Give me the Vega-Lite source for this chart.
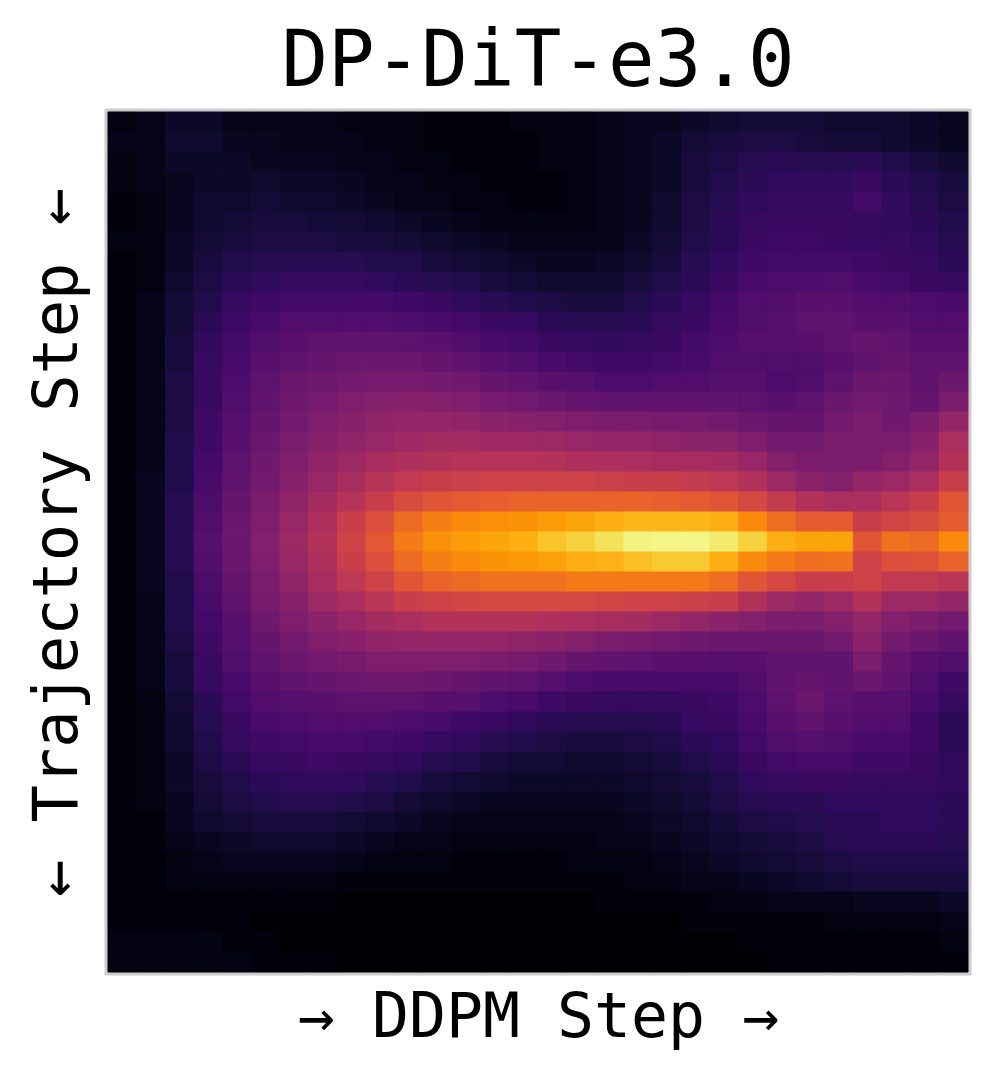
{"$schema":"https://vega.github.io/schema/vega-lite/v6.json","width":860,"height":860,"autosize":{"type":"none"},"padding":{"left":108,"top":112,"right":29,"bottom":108},"background":"white","config":{"view":{"stroke":"#cccccc","strokeWidth":7}},"title":{"text":"DP-DiT-e3.0","font":"DejaVu Sans Mono","fontSize":77.5,"fontWeight":"normal","color":"#000000","anchor":"middle","offset":9},"data":{"values":[
{"x":0,"y":0,"v":2},{"x":1,"y":0,"v":3},{"x":2,"y":0,"v":5},{"x":3,"y":0,"v":5},{"x":4,"y":0,"v":3},{"x":5,"y":0,"v":3},{"x":6,"y":0,"v":3},{"x":7,"y":0,"v":3},{"x":8,"y":0,"v":2},{"x":9,"y":0,"v":2},{"x":10,"y":0,"v":2},{"x":11,"y":0,"v":1},{"x":12,"y":0,"v":1},{"x":13,"y":0,"v":1},{"x":14,"y":0,"v":2},{"x":15,"y":0,"v":2},{"x":16,"y":0,"v":2},{"x":17,"y":0,"v":3},{"x":18,"y":0,"v":4},{"x":19,"y":0,"v":4},{"x":20,"y":0,"v":5},{"x":21,"y":0,"v":6},{"x":22,"y":0,"v":7},{"x":23,"y":0,"v":7},{"x":24,"y":0,"v":7},{"x":25,"y":0,"v":6},{"x":26,"y":0,"v":6},{"x":27,"y":0,"v":6},{"x":28,"y":0,"v":5},{"x":29,"y":0,"v":4},
{"x":0,"y":1,"v":3},{"x":1,"y":1,"v":3},{"x":2,"y":1,"v":6},{"x":3,"y":1,"v":6},{"x":4,"y":1,"v":4},{"x":5,"y":1,"v":4},{"x":6,"y":1,"v":3},{"x":7,"y":1,"v":3},{"x":8,"y":1,"v":3},{"x":9,"y":1,"v":2},{"x":10,"y":1,"v":2},{"x":11,"y":1,"v":1},{"x":12,"y":1,"v":1},{"x":13,"y":1,"v":1},{"x":14,"y":1,"v":1},{"x":15,"y":1,"v":2},{"x":16,"y":1,"v":2},{"x":17,"y":1,"v":3},{"x":18,"y":1,"v":4},{"x":19,"y":1,"v":5},{"x":20,"y":1,"v":7},{"x":21,"y":1,"v":8},{"x":22,"y":1,"v":9},{"x":23,"y":1,"v":9},{"x":24,"y":1,"v":8},{"x":25,"y":1,"v":7},{"x":26,"y":1,"v":7},{"x":27,"y":1,"v":6},{"x":28,"y":1,"v":5},{"x":29,"y":1,"v":4},
{"x":0,"y":2,"v":2},{"x":1,"y":2,"v":3},{"x":2,"y":2,"v":5},{"x":3,"y":2,"v":5},{"x":4,"y":2,"v":5},{"x":5,"y":2,"v":4},{"x":6,"y":2,"v":4},{"x":7,"y":2,"v":4},{"x":8,"y":2,"v":3},{"x":9,"y":2,"v":3},{"x":10,"y":2,"v":2},{"x":11,"y":2,"v":2},{"x":12,"y":2,"v":1},{"x":13,"y":2,"v":1},{"x":14,"y":2,"v":1},{"x":15,"y":2,"v":2},{"x":16,"y":2,"v":2},{"x":17,"y":2,"v":3},{"x":18,"y":2,"v":4},{"x":19,"y":2,"v":5},{"x":20,"y":2,"v":8},{"x":21,"y":2,"v":9},{"x":22,"y":2,"v":11},{"x":23,"y":2,"v":12},{"x":24,"y":2,"v":11},{"x":25,"y":2,"v":11},{"x":26,"y":2,"v":12},{"x":27,"y":2,"v":10},{"x":28,"y":2,"v":8},{"x":29,"y":2,"v":6},
{"x":0,"y":3,"v":2},{"x":1,"y":3,"v":3},{"x":2,"y":3,"v":4},{"x":3,"y":3,"v":5},{"x":4,"y":3,"v":5},{"x":5,"y":3,"v":6},{"x":6,"y":3,"v":5},{"x":7,"y":3,"v":5},{"x":8,"y":3,"v":4},{"x":9,"y":3,"v":3},{"x":10,"y":3,"v":3},{"x":11,"y":3,"v":2},{"x":12,"y":3,"v":2},{"x":13,"y":3,"v":1},{"x":14,"y":3,"v":1},{"x":15,"y":3,"v":1},{"x":16,"y":3,"v":2},{"x":17,"y":3,"v":3},{"x":18,"y":3,"v":4},{"x":19,"y":3,"v":5},{"x":20,"y":3,"v":8},{"x":21,"y":3,"v":10},{"x":22,"y":3,"v":12},{"x":23,"y":3,"v":13},{"x":24,"y":3,"v":13},{"x":25,"y":3,"v":13},{"x":26,"y":3,"v":15},{"x":27,"y":3,"v":12},{"x":28,"y":3,"v":10},{"x":29,"y":3,"v":8},
{"x":0,"y":4,"v":1},{"x":1,"y":4,"v":2},{"x":2,"y":4,"v":4},{"x":3,"y":4,"v":6},{"x":4,"y":4,"v":6},{"x":5,"y":4,"v":7},{"x":6,"y":4,"v":6},{"x":7,"y":4,"v":6},{"x":8,"y":4,"v":5},{"x":9,"y":4,"v":4},{"x":10,"y":4,"v":3},{"x":11,"y":4,"v":3},{"x":12,"y":4,"v":2},{"x":13,"y":4,"v":2},{"x":14,"y":4,"v":1},{"x":15,"y":4,"v":1},{"x":16,"y":4,"v":2},{"x":17,"y":4,"v":3},{"x":18,"y":4,"v":4},{"x":19,"y":4,"v":6},{"x":20,"y":4,"v":9},{"x":21,"y":4,"v":11},{"x":22,"y":4,"v":13},{"x":23,"y":4,"v":14},{"x":24,"y":4,"v":14},{"x":25,"y":4,"v":14},{"x":26,"y":4,"v":17},{"x":27,"y":4,"v":13},{"x":28,"y":4,"v":11},{"x":29,"y":4,"v":9},
{"x":0,"y":5,"v":1},{"x":1,"y":5,"v":2},{"x":2,"y":5,"v":4},{"x":3,"y":5,"v":6},{"x":4,"y":5,"v":7},{"x":5,"y":5,"v":8},{"x":6,"y":5,"v":8},{"x":7,"y":5,"v":7},{"x":8,"y":5,"v":7},{"x":9,"y":5,"v":6},{"x":10,"y":5,"v":5},{"x":11,"y":5,"v":4},{"x":12,"y":5,"v":3},{"x":13,"y":5,"v":2},{"x":14,"y":5,"v":2},{"x":15,"y":5,"v":2},{"x":16,"y":5,"v":2},{"x":17,"y":5,"v":3},{"x":18,"y":5,"v":4},{"x":19,"y":5,"v":6},{"x":20,"y":5,"v":9},{"x":21,"y":5,"v":12},{"x":22,"y":5,"v":14},{"x":23,"y":5,"v":15},{"x":24,"y":5,"v":15},{"x":25,"y":5,"v":15},{"x":26,"y":5,"v":14},{"x":27,"y":5,"v":13},{"x":28,"y":5,"v":12},{"x":29,"y":5,"v":10},
{"x":0,"y":6,"v":2},{"x":1,"y":6,"v":2},{"x":2,"y":6,"v":5},{"x":3,"y":6,"v":7},{"x":4,"y":6,"v":8},{"x":5,"y":6,"v":9},{"x":6,"y":6,"v":9},{"x":7,"y":6,"v":9},{"x":8,"y":6,"v":8},{"x":9,"y":6,"v":8},{"x":10,"y":6,"v":7},{"x":11,"y":6,"v":6},{"x":12,"y":6,"v":5},{"x":13,"y":6,"v":4},{"x":14,"y":6,"v":3},{"x":15,"y":6,"v":3},{"x":16,"y":6,"v":3},{"x":17,"y":6,"v":3},{"x":18,"y":6,"v":5},{"x":19,"y":6,"v":7},{"x":20,"y":6,"v":10},{"x":21,"y":6,"v":12},{"x":22,"y":6,"v":15},{"x":23,"y":6,"v":16},{"x":24,"y":6,"v":16},{"x":25,"y":6,"v":15},{"x":26,"y":6,"v":14},{"x":27,"y":6,"v":14},{"x":28,"y":6,"v":13},{"x":29,"y":6,"v":11},
{"x":0,"y":7,"v":1},{"x":1,"y":7,"v":2},{"x":2,"y":7,"v":5},{"x":3,"y":7,"v":8},{"x":4,"y":7,"v":10},{"x":5,"y":7,"v":11},{"x":6,"y":7,"v":11},{"x":7,"y":7,"v":11},{"x":8,"y":7,"v":11},{"x":9,"y":7,"v":10},{"x":10,"y":7,"v":10},{"x":11,"y":7,"v":8},{"x":12,"y":7,"v":7},{"x":13,"y":7,"v":6},{"x":14,"y":7,"v":5},{"x":15,"y":7,"v":4},{"x":16,"y":7,"v":4},{"x":17,"y":7,"v":5},{"x":18,"y":7,"v":6},{"x":19,"y":7,"v":8},{"x":20,"y":7,"v":11},{"x":21,"y":7,"v":13},{"x":22,"y":7,"v":16},{"x":23,"y":7,"v":17},{"x":24,"y":7,"v":17},{"x":25,"y":7,"v":17},{"x":26,"y":7,"v":16},{"x":27,"y":7,"v":15},{"x":28,"y":7,"v":14},{"x":29,"y":7,"v":12},
{"x":0,"y":8,"v":1},{"x":1,"y":8,"v":2},{"x":2,"y":8,"v":6},{"x":3,"y":8,"v":9},{"x":4,"y":8,"v":12},{"x":5,"y":8,"v":13},{"x":6,"y":8,"v":14},{"x":7,"y":8,"v":14},{"x":8,"y":8,"v":14},{"x":9,"y":8,"v":13},{"x":10,"y":8,"v":12},{"x":11,"y":8,"v":11},{"x":12,"y":8,"v":10},{"x":13,"y":8,"v":8},{"x":14,"y":8,"v":7},{"x":15,"y":8,"v":6},{"x":16,"y":8,"v":6},{"x":17,"y":8,"v":6},{"x":18,"y":8,"v":8},{"x":19,"y":8,"v":10},{"x":20,"y":8,"v":12},{"x":21,"y":8,"v":15},{"x":22,"y":8,"v":18},{"x":23,"y":8,"v":19},{"x":24,"y":8,"v":19},{"x":25,"y":8,"v":20},{"x":26,"y":8,"v":18},{"x":27,"y":8,"v":17},{"x":28,"y":8,"v":15},{"x":29,"y":8,"v":14},
{"x":0,"y":9,"v":1},{"x":1,"y":9,"v":3},{"x":2,"y":9,"v":7},{"x":3,"y":9,"v":10},{"x":4,"y":9,"v":14},{"x":5,"y":9,"v":16},{"x":6,"y":9,"v":17},{"x":7,"y":9,"v":17},{"x":8,"y":9,"v":17},{"x":9,"y":9,"v":17},{"x":10,"y":9,"v":16},{"x":11,"y":9,"v":15},{"x":12,"y":9,"v":13},{"x":13,"y":9,"v":11},{"x":14,"y":9,"v":10},{"x":15,"y":9,"v":9},{"x":16,"y":9,"v":8},{"x":17,"y":9,"v":8},{"x":18,"y":9,"v":10},{"x":19,"y":9,"v":12},{"x":20,"y":9,"v":14},{"x":21,"y":9,"v":17},{"x":22,"y":9,"v":20},{"x":23,"y":9,"v":20},{"x":24,"y":9,"v":22},{"x":25,"y":9,"v":22},{"x":26,"y":9,"v":20},{"x":27,"y":9,"v":20},{"x":28,"y":9,"v":19},{"x":29,"y":9,"v":18},
{"x":0,"y":10,"v":1},{"x":1,"y":10,"v":3},{"x":2,"y":10,"v":7},{"x":3,"y":10,"v":12},{"x":4,"y":10,"v":16},{"x":5,"y":10,"v":18},{"x":6,"y":10,"v":20},{"x":7,"y":10,"v":20},{"x":8,"y":10,"v":20},{"x":9,"y":10,"v":20},{"x":10,"y":10,"v":19},{"x":11,"y":10,"v":18},{"x":12,"y":10,"v":17},{"x":13,"y":10,"v":15},{"x":14,"y":10,"v":14},{"x":15,"y":10,"v":12},{"x":16,"y":10,"v":11},{"x":17,"y":10,"v":11},{"x":18,"y":10,"v":12},{"x":19,"y":10,"v":14},{"x":20,"y":10,"v":15},{"x":21,"y":10,"v":18},{"x":22,"y":10,"v":20},{"x":23,"y":10,"v":21},{"x":24,"y":10,"v":23},{"x":25,"y":10,"v":24},{"x":26,"y":10,"v":22},{"x":27,"y":10,"v":22},{"x":28,"y":10,"v":20},{"x":29,"y":10,"v":20},
{"x":0,"y":11,"v":1},{"x":1,"y":11,"v":3},{"x":2,"y":11,"v":8},{"x":3,"y":11,"v":13},{"x":4,"y":11,"v":17},{"x":5,"y":11,"v":20},{"x":6,"y":11,"v":22},{"x":7,"y":11,"v":23},{"x":8,"y":11,"v":24},{"x":9,"y":11,"v":24},{"x":10,"y":11,"v":23},{"x":11,"y":11,"v":22},{"x":12,"y":11,"v":20},{"x":13,"y":11,"v":18},{"x":14,"y":11,"v":17},{"x":15,"y":11,"v":15},{"x":16,"y":11,"v":14},{"x":17,"y":11,"v":13},{"x":18,"y":11,"v":14},{"x":19,"y":11,"v":15},{"x":20,"y":11,"v":17},{"x":21,"y":11,"v":19},{"x":22,"y":11,"v":21},{"x":23,"y":11,"v":21},{"x":24,"y":11,"v":22},{"x":25,"y":11,"v":24},{"x":26,"y":11,"v":25},{"x":27,"y":11,"v":24},{"x":28,"y":11,"v":22},{"x":29,"y":11,"v":22},
{"x":0,"y":12,"v":1},{"x":1,"y":12,"v":3},{"x":2,"y":12,"v":8},{"x":3,"y":12,"v":14},{"x":4,"y":12,"v":18},{"x":5,"y":12,"v":22},{"x":6,"y":12,"v":24},{"x":7,"y":12,"v":25},{"x":8,"y":12,"v":26},{"x":9,"y":12,"v":26},{"x":10,"y":12,"v":26},{"x":11,"y":12,"v":25},{"x":12,"y":12,"v":24},{"x":13,"y":12,"v":22},{"x":14,"y":12,"v":20},{"x":15,"y":12,"v":18},{"x":16,"y":12,"v":17},{"x":17,"y":12,"v":16},{"x":18,"y":12,"v":16},{"x":19,"y":12,"v":17},{"x":20,"y":12,"v":18},{"x":21,"y":12,"v":20},{"x":22,"y":12,"v":20},{"x":23,"y":12,"v":20},{"x":24,"y":12,"v":20},{"x":25,"y":12,"v":22},{"x":26,"y":12,"v":24},{"x":27,"y":12,"v":25},{"x":28,"y":12,"v":24},{"x":29,"y":12,"v":24},
{"x":0,"y":13,"v":1},{"x":1,"y":13,"v":3},{"x":2,"y":13,"v":9},{"x":3,"y":13,"v":15},{"x":4,"y":13,"v":19},{"x":5,"y":13,"v":23},{"x":6,"y":13,"v":26},{"x":7,"y":13,"v":27},{"x":8,"y":13,"v":28},{"x":9,"y":13,"v":29},{"x":10,"y":13,"v":29},{"x":11,"y":13,"v":28},{"x":12,"y":13,"v":27},{"x":13,"y":13,"v":25},{"x":14,"y":13,"v":24},{"x":15,"y":13,"v":22},{"x":16,"y":13,"v":21},{"x":17,"y":13,"v":19},{"x":18,"y":13,"v":19},{"x":19,"y":13,"v":20},{"x":20,"y":13,"v":20},{"x":21,"y":13,"v":21},{"x":22,"y":13,"v":21},{"x":23,"y":13,"v":19},{"x":24,"y":13,"v":20},{"x":25,"y":13,"v":23},{"x":26,"y":13,"v":26},{"x":27,"y":13,"v":26},{"x":28,"y":13,"v":24},{"x":29,"y":13,"v":26},
{"x":0,"y":14,"v":1},{"x":1,"y":14,"v":3},{"x":2,"y":14,"v":9},{"x":3,"y":14,"v":15},{"x":4,"y":14,"v":20},{"x":5,"y":14,"v":24},{"x":6,"y":14,"v":27},{"x":7,"y":14,"v":29},{"x":8,"y":14,"v":31},{"x":9,"y":14,"v":32},{"x":10,"y":14,"v":33},{"x":11,"y":14,"v":32},{"x":12,"y":14,"v":31},{"x":13,"y":14,"v":29},{"x":14,"y":14,"v":28},{"x":15,"y":14,"v":26},{"x":16,"y":14,"v":25},{"x":17,"y":14,"v":24},{"x":18,"y":14,"v":24},{"x":19,"y":14,"v":24},{"x":20,"y":14,"v":24},{"x":21,"y":14,"v":24},{"x":22,"y":14,"v":23},{"x":23,"y":14,"v":22},{"x":24,"y":14,"v":23},{"x":25,"y":14,"v":26},{"x":26,"y":14,"v":28},{"x":27,"y":14,"v":27},{"x":28,"y":14,"v":25},{"x":29,"y":14,"v":30},
{"x":0,"y":15,"v":1},{"x":1,"y":15,"v":3},{"x":2,"y":15,"v":9},{"x":3,"y":15,"v":16},{"x":4,"y":15,"v":21},{"x":5,"y":15,"v":25},{"x":6,"y":15,"v":28},{"x":7,"y":15,"v":31},{"x":8,"y":15,"v":33},{"x":9,"y":15,"v":35},{"x":10,"y":15,"v":36},{"x":11,"y":15,"v":36},{"x":12,"y":15,"v":35},{"x":13,"y":15,"v":34},{"x":14,"y":15,"v":33},{"x":15,"y":15,"v":32},{"x":16,"y":15,"v":31},{"x":17,"y":15,"v":30},{"x":18,"y":15,"v":30},{"x":19,"y":15,"v":29},{"x":20,"y":15,"v":29},{"x":21,"y":15,"v":28},{"x":22,"y":15,"v":26},{"x":23,"y":15,"v":25},{"x":24,"y":15,"v":25},{"x":25,"y":15,"v":28},{"x":26,"y":15,"v":30},{"x":27,"y":15,"v":27},{"x":28,"y":15,"v":30},{"x":29,"y":15,"v":36},
{"x":0,"y":16,"v":1},{"x":1,"y":16,"v":3},{"x":2,"y":16,"v":10},{"x":3,"y":16,"v":16},{"x":4,"y":16,"v":22},{"x":5,"y":16,"v":26},{"x":6,"y":16,"v":30},{"x":7,"y":16,"v":33},{"x":8,"y":16,"v":35},{"x":9,"y":16,"v":37},{"x":10,"y":16,"v":39},{"x":11,"y":16,"v":40},{"x":12,"y":16,"v":40},{"x":13,"y":16,"v":39},{"x":14,"y":16,"v":39},{"x":15,"y":16,"v":38},{"x":16,"y":16,"v":37},{"x":17,"y":16,"v":36},{"x":18,"y":16,"v":36},{"x":19,"y":16,"v":35},{"x":20,"y":16,"v":34},{"x":21,"y":16,"v":34},{"x":22,"y":16,"v":31},{"x":23,"y":16,"v":28},{"x":24,"y":16,"v":28},{"x":25,"y":16,"v":30},{"x":26,"y":16,"v":30},{"x":27,"y":16,"v":30},{"x":28,"y":16,"v":33},{"x":29,"y":16,"v":42},
{"x":0,"y":17,"v":1},{"x":1,"y":17,"v":3},{"x":2,"y":17,"v":10},{"x":3,"y":17,"v":17},{"x":4,"y":17,"v":23},{"x":5,"y":17,"v":27},{"x":6,"y":17,"v":31},{"x":7,"y":17,"v":35},{"x":8,"y":17,"v":38},{"x":9,"y":17,"v":41},{"x":10,"y":17,"v":43},{"x":11,"y":17,"v":44},{"x":12,"y":17,"v":45},{"x":13,"y":17,"v":45},{"x":14,"y":17,"v":45},{"x":15,"y":17,"v":44},{"x":16,"y":17,"v":43},{"x":17,"y":17,"v":43},{"x":18,"y":17,"v":42},{"x":19,"y":17,"v":41},{"x":20,"y":17,"v":41},{"x":21,"y":17,"v":40},{"x":22,"y":17,"v":37},{"x":23,"y":17,"v":32},{"x":24,"y":17,"v":30},{"x":25,"y":17,"v":30},{"x":26,"y":17,"v":30},{"x":27,"y":17,"v":32},{"x":28,"y":17,"v":36},{"x":29,"y":17,"v":44},
{"x":0,"y":18,"v":1},{"x":1,"y":18,"v":4},{"x":2,"y":18,"v":10},{"x":3,"y":18,"v":18},{"x":4,"y":18,"v":24},{"x":5,"y":18,"v":28},{"x":6,"y":18,"v":33},{"x":7,"y":18,"v":37},{"x":8,"y":18,"v":41},{"x":9,"y":18,"v":45},{"x":10,"y":18,"v":48},{"x":11,"y":18,"v":50},{"x":12,"y":18,"v":51},{"x":13,"y":18,"v":52},{"x":14,"y":18,"v":52},{"x":15,"y":18,"v":52},{"x":16,"y":18,"v":52},{"x":17,"y":18,"v":51},{"x":18,"y":18,"v":50},{"x":19,"y":18,"v":50},{"x":20,"y":18,"v":49},{"x":21,"y":18,"v":47},{"x":22,"y":18,"v":44},{"x":23,"y":18,"v":38},{"x":24,"y":18,"v":34},{"x":25,"y":18,"v":32},{"x":26,"y":18,"v":36},{"x":27,"y":18,"v":38},{"x":28,"y":18,"v":42},{"x":29,"y":18,"v":50},
{"x":0,"y":19,"v":1},{"x":1,"y":19,"v":4},{"x":2,"y":19,"v":11},{"x":3,"y":19,"v":19},{"x":4,"y":19,"v":25},{"x":5,"y":19,"v":30},{"x":6,"y":19,"v":35},{"x":7,"y":19,"v":40},{"x":8,"y":19,"v":45},{"x":9,"y":19,"v":50},{"x":10,"y":19,"v":55},{"x":11,"y":19,"v":58},{"x":12,"y":19,"v":60},{"x":13,"y":19,"v":61},{"x":14,"y":19,"v":62},{"x":15,"y":19,"v":62},{"x":16,"y":19,"v":62},{"x":17,"y":19,"v":62},{"x":18,"y":19,"v":62},{"x":19,"y":19,"v":61},{"x":20,"y":19,"v":60},{"x":21,"y":19,"v":58},{"x":22,"y":19,"v":54},{"x":23,"y":19,"v":49},{"x":24,"y":19,"v":44},{"x":25,"y":19,"v":42},{"x":26,"y":19,"v":42},{"x":27,"y":19,"v":46},{"x":28,"y":19,"v":50},{"x":29,"y":19,"v":58},
{"x":0,"y":20,"v":1},{"x":1,"y":20,"v":4},{"x":2,"y":20,"v":11},{"x":3,"y":20,"v":20},{"x":4,"y":20,"v":26},{"x":5,"y":20,"v":31},{"x":6,"y":20,"v":37},{"x":7,"y":20,"v":43},{"x":8,"y":20,"v":50},{"x":9,"y":20,"v":56},{"x":10,"y":20,"v":64},{"x":11,"y":20,"v":69},{"x":12,"y":20,"v":72},{"x":13,"y":20,"v":73},{"x":14,"y":20,"v":74},{"x":15,"y":20,"v":76},{"x":16,"y":20,"v":78},{"x":17,"y":20,"v":80},{"x":18,"y":20,"v":82},{"x":19,"y":20,"v":82},{"x":20,"y":20,"v":82},{"x":21,"y":20,"v":80},{"x":22,"y":20,"v":72},{"x":23,"y":20,"v":65},{"x":24,"y":20,"v":60},{"x":25,"y":20,"v":60},{"x":26,"y":20,"v":50},{"x":27,"y":20,"v":53},{"x":28,"y":20,"v":55},{"x":29,"y":20,"v":60},
{"x":0,"y":21,"v":1},{"x":1,"y":21,"v":4},{"x":2,"y":21,"v":11},{"x":3,"y":21,"v":21},{"x":4,"y":21,"v":26},{"x":5,"y":21,"v":32},{"x":6,"y":21,"v":38},{"x":7,"y":21,"v":44},{"x":8,"y":21,"v":52},{"x":9,"y":21,"v":59},{"x":10,"y":21,"v":68},{"x":11,"y":21,"v":73},{"x":12,"y":21,"v":76},{"x":13,"y":21,"v":78},{"x":14,"y":21,"v":80},{"x":15,"y":21,"v":85},{"x":16,"y":21,"v":88},{"x":17,"y":21,"v":92},{"x":18,"y":21,"v":96},{"x":19,"y":21,"v":97},{"x":20,"y":21,"v":97},{"x":21,"y":21,"v":94},{"x":22,"y":21,"v":88},{"x":23,"y":21,"v":80},{"x":24,"y":21,"v":78},{"x":25,"y":21,"v":78},{"x":26,"y":21,"v":58},{"x":27,"y":21,"v":66},{"x":28,"y":21,"v":64},{"x":29,"y":21,"v":72},
{"x":0,"y":22,"v":1},{"x":1,"y":22,"v":4},{"x":2,"y":22,"v":11},{"x":3,"y":22,"v":20},{"x":4,"y":22,"v":26},{"x":5,"y":22,"v":31},{"x":6,"y":22,"v":37},{"x":7,"y":22,"v":43},{"x":8,"y":22,"v":50},{"x":9,"y":22,"v":56},{"x":10,"y":22,"v":64},{"x":11,"y":22,"v":69},{"x":12,"y":22,"v":72},{"x":13,"y":22,"v":74},{"x":14,"y":22,"v":75},{"x":15,"y":22,"v":77},{"x":16,"y":22,"v":80},{"x":17,"y":22,"v":81},{"x":18,"y":22,"v":84},{"x":19,"y":22,"v":86},{"x":20,"y":22,"v":86},{"x":21,"y":22,"v":80},{"x":22,"y":22,"v":72},{"x":23,"y":22,"v":68},{"x":24,"y":22,"v":65},{"x":25,"y":22,"v":66},{"x":26,"y":22,"v":52},{"x":27,"y":22,"v":56},{"x":28,"y":22,"v":57},{"x":29,"y":22,"v":62},
{"x":0,"y":23,"v":1},{"x":1,"y":23,"v":4},{"x":2,"y":23,"v":10},{"x":3,"y":23,"v":19},{"x":4,"y":23,"v":25},{"x":5,"y":23,"v":30},{"x":6,"y":23,"v":35},{"x":7,"y":23,"v":41},{"x":8,"y":23,"v":47},{"x":9,"y":23,"v":52},{"x":10,"y":23,"v":58},{"x":11,"y":23,"v":62},{"x":12,"y":23,"v":64},{"x":13,"y":23,"v":66},{"x":14,"y":23,"v":66},{"x":15,"y":23,"v":66},{"x":16,"y":23,"v":68},{"x":17,"y":23,"v":68},{"x":18,"y":23,"v":68},{"x":19,"y":23,"v":68},{"x":20,"y":23,"v":68},{"x":21,"y":23,"v":65},{"x":22,"y":23,"v":58},{"x":23,"y":23,"v":54},{"x":24,"y":23,"v":50},{"x":25,"y":23,"v":50},{"x":26,"y":23,"v":52},{"x":27,"y":23,"v":48},{"x":28,"y":23,"v":48},{"x":29,"y":23,"v":46},
{"x":0,"y":24,"v":1},{"x":1,"y":24,"v":3},{"x":2,"y":24,"v":10},{"x":3,"y":24,"v":18},{"x":4,"y":24,"v":24},{"x":5,"y":24,"v":29},{"x":6,"y":24,"v":33},{"x":7,"y":24,"v":38},{"x":8,"y":24,"v":42},{"x":9,"y":24,"v":46},{"x":10,"y":24,"v":50},{"x":11,"y":24,"v":52},{"x":12,"y":24,"v":53},{"x":13,"y":24,"v":54},{"x":14,"y":24,"v":54},{"x":15,"y":24,"v":54},{"x":16,"y":24,"v":54},{"x":17,"y":24,"v":53},{"x":18,"y":24,"v":52},{"x":19,"y":24,"v":52},{"x":20,"y":24,"v":51},{"x":21,"y":24,"v":50},{"x":22,"y":24,"v":44},{"x":23,"y":24,"v":38},{"x":24,"y":24,"v":36},{"x":25,"y":24,"v":38},{"x":26,"y":24,"v":44},{"x":27,"y":24,"v":38},{"x":28,"y":24,"v":38},{"x":29,"y":24,"v":36},
{"x":0,"y":25,"v":1},{"x":1,"y":25,"v":3},{"x":2,"y":25,"v":10},{"x":3,"y":25,"v":17},{"x":4,"y":25,"v":22},{"x":5,"y":25,"v":27},{"x":6,"y":25,"v":31},{"x":7,"y":25,"v":34},{"x":8,"y":25,"v":37},{"x":9,"y":25,"v":40},{"x":10,"y":25,"v":42},{"x":11,"y":25,"v":44},{"x":12,"y":25,"v":44},{"x":13,"y":25,"v":44},{"x":14,"y":25,"v":44},{"x":15,"y":25,"v":43},{"x":16,"y":25,"v":42},{"x":17,"y":25,"v":41},{"x":18,"y":25,"v":40},{"x":19,"y":25,"v":38},{"x":20,"y":25,"v":36},{"x":21,"y":25,"v":34},{"x":22,"y":25,"v":32},{"x":23,"y":25,"v":30},{"x":24,"y":25,"v":30},{"x":25,"y":25,"v":32},{"x":26,"y":25,"v":36},{"x":27,"y":25,"v":32},{"x":28,"y":25,"v":30},{"x":29,"y":25,"v":28},
{"x":0,"y":26,"v":1},{"x":1,"y":26,"v":3},{"x":2,"y":26,"v":9},{"x":3,"y":26,"v":16},{"x":4,"y":26,"v":21},{"x":5,"y":26,"v":25},{"x":6,"y":26,"v":28},{"x":7,"y":26,"v":31},{"x":8,"y":26,"v":33},{"x":9,"y":26,"v":35},{"x":10,"y":26,"v":36},{"x":11,"y":26,"v":36},{"x":12,"y":26,"v":36},{"x":13,"y":26,"v":36},{"x":14,"y":26,"v":35},{"x":15,"y":26,"v":34},{"x":16,"y":26,"v":32},{"x":17,"y":26,"v":30},{"x":18,"y":26,"v":29},{"x":19,"y":26,"v":28},{"x":20,"y":26,"v":27},{"x":21,"y":26,"v":26},{"x":22,"y":26,"v":26},{"x":23,"y":26,"v":26},{"x":24,"y":26,"v":26},{"x":25,"y":26,"v":28},{"x":26,"y":26,"v":34},{"x":27,"y":26,"v":28},{"x":28,"y":26,"v":26},{"x":29,"y":26,"v":24},
{"x":0,"y":27,"v":1},{"x":1,"y":27,"v":3},{"x":2,"y":27,"v":8},{"x":3,"y":27,"v":15},{"x":4,"y":27,"v":20},{"x":5,"y":27,"v":24},{"x":6,"y":27,"v":26},{"x":7,"y":27,"v":28},{"x":8,"y":27,"v":29},{"x":9,"y":27,"v":31},{"x":10,"y":27,"v":31},{"x":11,"y":27,"v":31},{"x":12,"y":27,"v":31},{"x":13,"y":27,"v":30},{"x":14,"y":27,"v":29},{"x":15,"y":27,"v":27},{"x":16,"y":27,"v":25},{"x":17,"y":27,"v":24},{"x":18,"y":27,"v":23},{"x":19,"y":27,"v":22},{"x":20,"y":27,"v":22},{"x":21,"y":27,"v":21},{"x":22,"y":27,"v":22},{"x":23,"y":27,"v":24},{"x":24,"y":27,"v":24},{"x":25,"y":27,"v":24},{"x":26,"y":27,"v":30},{"x":27,"y":27,"v":25},{"x":28,"y":27,"v":22},{"x":29,"y":27,"v":20},
{"x":0,"y":28,"v":1},{"x":1,"y":28,"v":3},{"x":2,"y":28,"v":8},{"x":3,"y":28,"v":14},{"x":4,"y":28,"v":18},{"x":5,"y":28,"v":22},{"x":6,"y":28,"v":24},{"x":7,"y":28,"v":25},{"x":8,"y":28,"v":26},{"x":9,"y":28,"v":27},{"x":10,"y":28,"v":27},{"x":11,"y":28,"v":26},{"x":12,"y":28,"v":25},{"x":13,"y":28,"v":24},{"x":14,"y":28,"v":23},{"x":15,"y":28,"v":21},{"x":16,"y":28,"v":19},{"x":17,"y":28,"v":18},{"x":18,"y":28,"v":18},{"x":19,"y":28,"v":18},{"x":20,"y":28,"v":18},{"x":21,"y":28,"v":18},{"x":22,"y":28,"v":20},{"x":23,"y":28,"v":24},{"x":24,"y":28,"v":25},{"x":25,"y":28,"v":24},{"x":26,"y":28,"v":26},{"x":27,"y":28,"v":24},{"x":28,"y":28,"v":20},{"x":29,"y":28,"v":16},
{"x":0,"y":29,"v":1},{"x":1,"y":29,"v":2},{"x":2,"y":29,"v":7},{"x":3,"y":29,"v":12},{"x":4,"y":29,"v":17},{"x":5,"y":29,"v":20},{"x":6,"y":29,"v":21},{"x":7,"y":29,"v":22},{"x":8,"y":29,"v":23},{"x":9,"y":29,"v":23},{"x":10,"y":29,"v":23},{"x":11,"y":29,"v":22},{"x":12,"y":29,"v":21},{"x":13,"y":29,"v":19},{"x":14,"y":29,"v":18},{"x":15,"y":29,"v":16},{"x":16,"y":29,"v":15},{"x":17,"y":29,"v":14},{"x":18,"y":29,"v":14},{"x":19,"y":29,"v":14},{"x":20,"y":29,"v":15},{"x":21,"y":29,"v":16},{"x":22,"y":29,"v":19},{"x":23,"y":29,"v":23},{"x":24,"y":29,"v":26},{"x":25,"y":29,"v":23},{"x":26,"y":29,"v":22},{"x":27,"y":29,"v":21},{"x":28,"y":29,"v":18},{"x":29,"y":29,"v":14},
{"x":0,"y":30,"v":1},{"x":1,"y":30,"v":2},{"x":2,"y":30,"v":6},{"x":3,"y":30,"v":11},{"x":4,"y":30,"v":15},{"x":5,"y":30,"v":18},{"x":6,"y":30,"v":19},{"x":7,"y":30,"v":20},{"x":8,"y":30,"v":20},{"x":9,"y":30,"v":20},{"x":10,"y":30,"v":19},{"x":11,"y":30,"v":18},{"x":12,"y":30,"v":16},{"x":13,"y":30,"v":15},{"x":14,"y":30,"v":13},{"x":15,"y":30,"v":12},{"x":16,"y":30,"v":11},{"x":17,"y":30,"v":11},{"x":18,"y":30,"v":11},{"x":19,"y":30,"v":12},{"x":20,"y":30,"v":14},{"x":21,"y":30,"v":15},{"x":22,"y":30,"v":18},{"x":23,"y":30,"v":22},{"x":24,"y":30,"v":24},{"x":25,"y":30,"v":22},{"x":26,"y":30,"v":20},{"x":27,"y":30,"v":20},{"x":28,"y":30,"v":16},{"x":29,"y":30,"v":12},
{"x":0,"y":31,"v":1},{"x":1,"y":31,"v":2},{"x":2,"y":31,"v":6},{"x":3,"y":31,"v":10},{"x":4,"y":31,"v":14},{"x":5,"y":31,"v":16},{"x":6,"y":31,"v":17},{"x":7,"y":31,"v":18},{"x":8,"y":31,"v":18},{"x":9,"y":31,"v":17},{"x":10,"y":31,"v":16},{"x":11,"y":31,"v":14},{"x":12,"y":31,"v":13},{"x":13,"y":31,"v":11},{"x":14,"y":31,"v":10},{"x":15,"y":31,"v":9},{"x":16,"y":31,"v":8},{"x":17,"y":31,"v":8},{"x":18,"y":31,"v":9},{"x":19,"y":31,"v":10},{"x":20,"y":31,"v":12},{"x":21,"y":31,"v":13},{"x":22,"y":31,"v":17},{"x":23,"y":31,"v":20},{"x":24,"y":31,"v":21},{"x":25,"y":31,"v":20},{"x":26,"y":31,"v":18},{"x":27,"y":31,"v":18},{"x":28,"y":31,"v":16},{"x":29,"y":31,"v":12},
{"x":0,"y":32,"v":1},{"x":1,"y":32,"v":2},{"x":2,"y":32,"v":5},{"x":3,"y":32,"v":9},{"x":4,"y":32,"v":12},{"x":5,"y":32,"v":14},{"x":6,"y":32,"v":15},{"x":7,"y":32,"v":16},{"x":8,"y":32,"v":15},{"x":9,"y":32,"v":14},{"x":10,"y":32,"v":13},{"x":11,"y":32,"v":11},{"x":12,"y":32,"v":10},{"x":13,"y":32,"v":8},{"x":14,"y":32,"v":7},{"x":15,"y":32,"v":7},{"x":16,"y":32,"v":6},{"x":17,"y":32,"v":6},{"x":18,"y":32,"v":7},{"x":19,"y":32,"v":8},{"x":20,"y":32,"v":10},{"x":21,"y":32,"v":12},{"x":22,"y":32,"v":15},{"x":23,"y":32,"v":17},{"x":24,"y":32,"v":18},{"x":25,"y":32,"v":18},{"x":26,"y":32,"v":16},{"x":27,"y":32,"v":16},{"x":28,"y":32,"v":15},{"x":29,"y":32,"v":13},
{"x":0,"y":33,"v":1},{"x":1,"y":33,"v":2},{"x":2,"y":33,"v":5},{"x":3,"y":33,"v":8},{"x":4,"y":33,"v":10},{"x":5,"y":33,"v":12},{"x":6,"y":33,"v":13},{"x":7,"y":33,"v":13},{"x":8,"y":33,"v":13},{"x":9,"y":33,"v":11},{"x":10,"y":33,"v":10},{"x":11,"y":33,"v":8},{"x":12,"y":33,"v":7},{"x":13,"y":33,"v":6},{"x":14,"y":33,"v":5},{"x":15,"y":33,"v":5},{"x":16,"y":33,"v":5},{"x":17,"y":33,"v":5},{"x":18,"y":33,"v":6},{"x":19,"y":33,"v":7},{"x":20,"y":33,"v":8},{"x":21,"y":33,"v":10},{"x":22,"y":33,"v":13},{"x":23,"y":33,"v":14},{"x":24,"y":33,"v":15},{"x":25,"y":33,"v":15},{"x":26,"y":33,"v":14},{"x":27,"y":33,"v":14},{"x":28,"y":33,"v":14},{"x":29,"y":33,"v":13},
{"x":0,"y":34,"v":1},{"x":1,"y":34,"v":2},{"x":2,"y":34,"v":4},{"x":3,"y":34,"v":7},{"x":4,"y":34,"v":9},{"x":5,"y":34,"v":10},{"x":6,"y":34,"v":11},{"x":7,"y":34,"v":11},{"x":8,"y":34,"v":10},{"x":9,"y":34,"v":9},{"x":10,"y":34,"v":7},{"x":11,"y":34,"v":6},{"x":12,"y":34,"v":5},{"x":13,"y":34,"v":4},{"x":14,"y":34,"v":4},{"x":15,"y":34,"v":4},{"x":16,"y":34,"v":4},{"x":17,"y":34,"v":4},{"x":18,"y":34,"v":5},{"x":19,"y":34,"v":6},{"x":20,"y":34,"v":7},{"x":21,"y":34,"v":9},{"x":22,"y":34,"v":11},{"x":23,"y":34,"v":12},{"x":24,"y":34,"v":12},{"x":25,"y":34,"v":13},{"x":26,"y":34,"v":13},{"x":27,"y":34,"v":13},{"x":28,"y":34,"v":13},{"x":29,"y":34,"v":12},
{"x":0,"y":35,"v":1},{"x":1,"y":35,"v":1},{"x":2,"y":35,"v":4},{"x":3,"y":35,"v":6},{"x":4,"y":35,"v":7},{"x":5,"y":35,"v":8},{"x":6,"y":35,"v":8},{"x":7,"y":35,"v":8},{"x":8,"y":35,"v":7},{"x":9,"y":35,"v":6},{"x":10,"y":35,"v":5},{"x":11,"y":35,"v":4},{"x":12,"y":35,"v":3},{"x":13,"y":35,"v":3},{"x":14,"y":35,"v":3},{"x":15,"y":35,"v":3},{"x":16,"y":35,"v":3},{"x":17,"y":35,"v":3},{"x":18,"y":35,"v":4},{"x":19,"y":35,"v":5},{"x":20,"y":35,"v":6},{"x":21,"y":35,"v":7},{"x":22,"y":35,"v":9},{"x":23,"y":35,"v":10},{"x":24,"y":35,"v":11},{"x":25,"y":35,"v":12},{"x":26,"y":35,"v":12},{"x":27,"y":35,"v":13},{"x":28,"y":35,"v":13},{"x":29,"y":35,"v":12},
{"x":0,"y":36,"v":1},{"x":1,"y":36,"v":1},{"x":2,"y":36,"v":3},{"x":3,"y":36,"v":4},{"x":4,"y":36,"v":5},{"x":5,"y":36,"v":6},{"x":6,"y":36,"v":6},{"x":7,"y":36,"v":6},{"x":8,"y":36,"v":5},{"x":9,"y":36,"v":4},{"x":10,"y":36,"v":3},{"x":11,"y":36,"v":3},{"x":12,"y":36,"v":2},{"x":13,"y":36,"v":2},{"x":14,"y":36,"v":2},{"x":15,"y":36,"v":2},{"x":16,"y":36,"v":2},{"x":17,"y":36,"v":3},{"x":18,"y":36,"v":3},{"x":19,"y":36,"v":4},{"x":20,"y":36,"v":5},{"x":21,"y":36,"v":6},{"x":22,"y":36,"v":7},{"x":23,"y":36,"v":8},{"x":24,"y":36,"v":9},{"x":25,"y":36,"v":11},{"x":26,"y":36,"v":12},{"x":27,"y":36,"v":12},{"x":28,"y":36,"v":12},{"x":29,"y":36,"v":11},
{"x":0,"y":37,"v":1},{"x":1,"y":37,"v":1},{"x":2,"y":37,"v":2},{"x":3,"y":37,"v":3},{"x":4,"y":37,"v":4},{"x":5,"y":37,"v":4},{"x":6,"y":37,"v":4},{"x":7,"y":37,"v":4},{"x":8,"y":37,"v":3},{"x":9,"y":37,"v":2},{"x":10,"y":37,"v":2},{"x":11,"y":37,"v":2},{"x":12,"y":37,"v":1},{"x":13,"y":37,"v":1},{"x":14,"y":37,"v":1},{"x":15,"y":37,"v":1},{"x":16,"y":37,"v":2},{"x":17,"y":37,"v":2},{"x":18,"y":37,"v":2},{"x":19,"y":37,"v":3},{"x":20,"y":37,"v":4},{"x":21,"y":37,"v":5},{"x":22,"y":37,"v":6},{"x":23,"y":37,"v":7},{"x":24,"y":37,"v":8},{"x":25,"y":37,"v":9},{"x":26,"y":37,"v":10},{"x":27,"y":37,"v":10},{"x":28,"y":37,"v":10},{"x":29,"y":37,"v":10},
{"x":0,"y":38,"v":1},{"x":1,"y":38,"v":1},{"x":2,"y":38,"v":2},{"x":3,"y":38,"v":2},{"x":4,"y":38,"v":2},{"x":5,"y":38,"v":2},{"x":6,"y":38,"v":2},{"x":7,"y":38,"v":2},{"x":8,"y":38,"v":1},{"x":9,"y":38,"v":1},{"x":10,"y":38,"v":1},{"x":11,"y":38,"v":1},{"x":12,"y":38,"v":1},{"x":13,"y":38,"v":1},{"x":14,"y":38,"v":1},{"x":15,"y":38,"v":1},{"x":16,"y":38,"v":1},{"x":17,"y":38,"v":1},{"x":18,"y":38,"v":2},{"x":19,"y":38,"v":2},{"x":20,"y":38,"v":3},{"x":21,"y":38,"v":3},{"x":22,"y":38,"v":4},{"x":23,"y":38,"v":5},{"x":24,"y":38,"v":6},{"x":25,"y":38,"v":7},{"x":26,"y":38,"v":8},{"x":27,"y":38,"v":8},{"x":28,"y":38,"v":8},{"x":29,"y":38,"v":8},
{"x":0,"y":39,"v":1},{"x":1,"y":39,"v":1},{"x":2,"y":39,"v":1},{"x":3,"y":39,"v":1},{"x":4,"y":39,"v":1},{"x":5,"y":39,"v":1},{"x":6,"y":39,"v":1},{"x":7,"y":39,"v":1},{"x":8,"y":39,"v":0},{"x":9,"y":39,"v":0},{"x":10,"y":39,"v":0},{"x":11,"y":39,"v":0},{"x":12,"y":39,"v":0},{"x":13,"y":39,"v":0},{"x":14,"y":39,"v":0},{"x":15,"y":39,"v":0},{"x":16,"y":39,"v":0},{"x":17,"y":39,"v":1},{"x":18,"y":39,"v":1},{"x":19,"y":39,"v":1},{"x":20,"y":39,"v":1},{"x":21,"y":39,"v":2},{"x":22,"y":39,"v":2},{"x":23,"y":39,"v":3},{"x":24,"y":39,"v":3},{"x":25,"y":39,"v":3},{"x":26,"y":39,"v":4},{"x":27,"y":39,"v":4},{"x":28,"y":39,"v":4},{"x":29,"y":39,"v":5},
{"x":0,"y":40,"v":1},{"x":1,"y":40,"v":1},{"x":2,"y":40,"v":1},{"x":3,"y":40,"v":1},{"x":4,"y":40,"v":1},{"x":5,"y":40,"v":0},{"x":6,"y":40,"v":0},{"x":7,"y":40,"v":0},{"x":8,"y":40,"v":0},{"x":9,"y":40,"v":0},{"x":10,"y":40,"v":0},{"x":11,"y":40,"v":0},{"x":12,"y":40,"v":0},{"x":13,"y":40,"v":0},{"x":14,"y":40,"v":0},{"x":15,"y":40,"v":0},{"x":16,"y":40,"v":0},{"x":17,"y":40,"v":0},{"x":18,"y":40,"v":0},{"x":19,"y":40,"v":0},{"x":20,"y":40,"v":1},{"x":21,"y":40,"v":1},{"x":22,"y":40,"v":1},{"x":23,"y":40,"v":1},{"x":24,"y":40,"v":1},{"x":25,"y":40,"v":2},{"x":26,"y":40,"v":2},{"x":27,"y":40,"v":2},{"x":28,"y":40,"v":2},{"x":29,"y":40,"v":3},
{"x":0,"y":41,"v":2},{"x":1,"y":41,"v":2},{"x":2,"y":41,"v":2},{"x":3,"y":41,"v":2},{"x":4,"y":41,"v":1},{"x":5,"y":41,"v":1},{"x":6,"y":41,"v":0},{"x":7,"y":41,"v":0},{"x":8,"y":41,"v":0},{"x":9,"y":41,"v":0},{"x":10,"y":41,"v":0},{"x":11,"y":41,"v":0},{"x":12,"y":41,"v":0},{"x":13,"y":41,"v":0},{"x":14,"y":41,"v":0},{"x":15,"y":41,"v":0},{"x":16,"y":41,"v":0},{"x":17,"y":41,"v":0},{"x":18,"y":41,"v":0},{"x":19,"y":41,"v":0},{"x":20,"y":41,"v":0},{"x":21,"y":41,"v":0},{"x":22,"y":41,"v":1},{"x":23,"y":41,"v":1},{"x":24,"y":41,"v":1},{"x":25,"y":41,"v":1},{"x":26,"y":41,"v":1},{"x":27,"y":41,"v":1},{"x":28,"y":41,"v":1},{"x":29,"y":41,"v":2},
{"x":0,"y":42,"v":2},{"x":1,"y":42,"v":2},{"x":2,"y":42,"v":2},{"x":3,"y":42,"v":2},{"x":4,"y":42,"v":2},{"x":5,"y":42,"v":1},{"x":6,"y":42,"v":1},{"x":7,"y":42,"v":1},{"x":8,"y":42,"v":0},{"x":9,"y":42,"v":0},{"x":10,"y":42,"v":0},{"x":11,"y":42,"v":0},{"x":12,"y":42,"v":0},{"x":13,"y":42,"v":0},{"x":14,"y":42,"v":0},{"x":15,"y":42,"v":0},{"x":16,"y":42,"v":0},{"x":17,"y":42,"v":0},{"x":18,"y":42,"v":0},{"x":19,"y":42,"v":0},{"x":20,"y":42,"v":0},{"x":21,"y":42,"v":0},{"x":22,"y":42,"v":0},{"x":23,"y":42,"v":1},{"x":24,"y":42,"v":1},{"x":25,"y":42,"v":1},{"x":26,"y":42,"v":1},{"x":27,"y":42,"v":1},{"x":28,"y":42,"v":1},{"x":29,"y":42,"v":1}
]},"mark":{"type":"rect","strokeWidth":1},"encoding":{"x":{"field":"x","type":"ordinal","scale":{"paddingInner":0,"paddingOuter":0},"axis":{"labels":false,"ticks":false,"domain":false,"title":"→ DDPM Step →","titleFont":"DejaVu Sans Mono","titleFontSize":61.5,"titleFontWeight":"normal","titleColor":"#000000","titlePadding":15}},"y":{"field":"y","type":"ordinal","scale":{"paddingInner":0,"paddingOuter":0},"axis":{"labels":false,"ticks":false,"domain":false,"title":"← Trajectory Step ←","titleFont":"DejaVu Sans Mono","titleFontSize":62,"titleFontWeight":"normal","titleColor":"#000000","titlePadding":19}},"color":{"field":"v","type":"quantitative","scale":{"type":"pow","exponent":0.9,"scheme":"inferno","domain":[0,100]},"legend":null},"stroke":{"field":"v","type":"quantitative","scale":{"type":"pow","exponent":0.9,"scheme":"inferno","domain":[0,100]},"legend":null}}}
